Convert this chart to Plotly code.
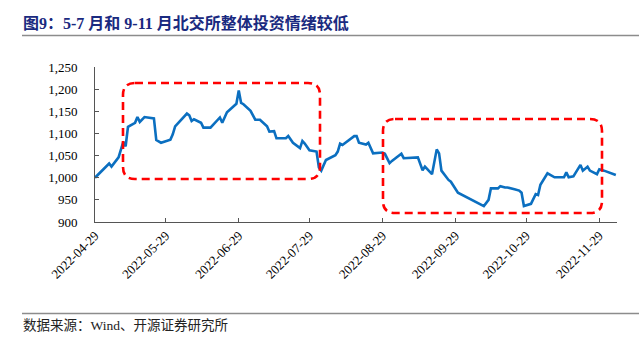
import plotly.graph_objects as go

dates = [
    "2022-04-29", "2022-05-05", "2022-05-06", "2022-05-09", "2022-05-11", "2022-05-12",
    "2022-05-13", "2022-05-16", "2022-05-17", "2022-05-18", "2022-05-20", "2022-05-24",
    "2022-05-25", "2022-05-27", "2022-05-31", "2022-06-01", "2022-06-02", "2022-06-07",
    "2022-06-08", "2022-06-09", "2022-06-10", "2022-06-13", "2022-06-14", "2022-06-17",
    "2022-06-21", "2022-06-22", "2022-06-24", "2022-06-28", "2022-06-29", "2022-06-30",
    "2022-07-01", "2022-07-04", "2022-07-06", "2022-07-08", "2022-07-11", "2022-07-12",
    "2022-07-14", "2022-07-15", "2022-07-19", "2022-07-20", "2022-07-22", "2022-07-25",
    "2022-07-26", "2022-07-27", "2022-07-29", "2022-08-01", "2022-08-02", "2022-08-03",
    "2022-08-05", "2022-08-09", "2022-08-10", "2022-08-11", "2022-08-12", "2022-08-15",
    "2022-08-17", "2022-08-18", "2022-08-19", "2022-08-22", "2022-08-23", "2022-08-25",
    "2022-08-29", "2022-08-30", "2022-09-01", "2022-09-02", "2022-09-06", "2022-09-07",
    "2022-09-09", "2022-09-13", "2022-09-15", "2022-09-16", "2022-09-19", "2022-09-20",
    "2022-09-21", "2022-09-22", "2022-09-23", "2022-09-26", "2022-09-27", "2022-09-30",
    "2022-10-10", "2022-10-11", "2022-10-13", "2022-10-14", "2022-10-17", "2022-10-18",
    "2022-10-20", "2022-10-21", "2022-10-24", "2022-10-26", "2022-10-27", "2022-10-28",
    "2022-10-31", "2022-11-02", "2022-11-03", "2022-11-04", "2022-11-07", "2022-11-10",
    "2022-11-14", "2022-11-15", "2022-11-16", "2022-11-18", "2022-11-21", "2022-11-22",
    "2022-11-24", "2022-11-25", "2022-11-28", "2022-11-29", "2022-12-01", "2022-12-06",
]

index_values = [
    1000, 1032, 1025, 1046, 1081, 1071,
    1115, 1124, 1137, 1126, 1137, 1134,
    1085, 1079, 1086, 1098, 1116, 1145,
    1141, 1128, 1132, 1124, 1113, 1113,
    1136, 1124, 1148, 1167, 1197, 1169,
    1166, 1151, 1131, 1131, 1116, 1104,
    1105, 1089, 1089, 1094, 1079, 1067,
    1083, 1077, 1062, 1059, 1023, 1016,
    1040, 1051, 1059, 1077, 1074, 1085,
    1094, 1094, 1079, 1075, 1079, 1055,
    1057, 1054, 1033, 1038, 1054, 1044,
    1045, 1046, 1017, 1025, 1008, 1036,
    1064, 1055, 1016, 995, 991, 966,
    940, 936, 950, 976, 976, 981,
    978, 978, 974, 971, 966, 936,
    941, 963, 961, 984, 1010, 1001,
    1001, 1012, 1001, 1003, 1029, 1016,
    1025, 1016, 1008, 1019, 1016, 1006,
]

x_tick_labels = [
    "2022-04-29", "2022-05-29", "2022-06-29", "2022-07-29",
    "2022-08-29", "2022-09-29", "2022-10-29", "2022-11-29",
]
y_tick_values = [900, 950, 1000, 1050, 1100, 1150, 1200, 1250]

title_text = "图9：5-7 月和 9-11 月北交所整体投资情绪较低"
source_text = "数据来源：Wind、开源证券研究所"

W, H = 639, 351
L, R, T, B = 95, 22, 67, 129
PW, PH = W - L - R, H - T - B

def px(xp):
    return (xp - L) / PW

def py(yp):
    return (H - B - yp) / PH

fig = go.Figure()
fig.add_trace(go.Scatter(
    x=dates, y=index_values, mode="lines",
    line=dict(color="#0b6fc0", width=2.6),
    showlegend=False, hoverinfo="skip",
))

serif = "Liberation Serif, Times New Roman, Noto Sans CJK SC, serif"
axis_color = "#555555"

fig.update_xaxes(
    type="date",
    range=["2022-04-29", "2022-12-06 12:00"],
    tickvals=x_tick_labels, ticktext=x_tick_labels,
    tickangle=-45,
    ticks="inside", ticklen=4, tickcolor=axis_color,
    showline=True, linecolor=axis_color, linewidth=1,
    showgrid=False, zeroline=False,
    tickfont=dict(family=serif, size=13, color="#000000"),
)
fig.update_yaxes(
    range=[900, 1250],
    tickvals=y_tick_values, tickformat=",",
    ticks="inside", ticklen=4, tickcolor=axis_color,
    showline=True, linecolor=axis_color, linewidth=1,
    showgrid=False, zeroline=False,
    ticklabelstandoff=14,
    tickfont=dict(family=serif, size=13, color="#000000"),
)

def rounded_box(x0, y0, x1, y1, r=12):
    # x0..x1, y0..y1 in pixel coordinates of the page (y downward)
    a0, a1 = px(x0), px(x1)
    b0, b1 = py(y1), py(y0)  # bottom, top in paper
    rx, ry = r / PW, r / PH
    return (f"M {a0+rx},{b1} L {a1-rx},{b1} Q {a1},{b1} {a1},{b1-ry} "
            f"L {a1},{b0+ry} Q {a1},{b0} {a1-rx},{b0} "
            f"L {a0+rx},{b0} Q {a0},{b0} {a0},{b0+ry} "
            f"L {a0},{b1-ry} Q {a0},{b1} {a0+rx},{b1} Z")

box_line = dict(color="#ff0000", width=2.6, dash="8px,5px")
shapes = [
    dict(type="path", xref="paper", yref="paper", path=rounded_box(123, 83, 320, 179), line=box_line),
    dict(type="path", xref="paper", yref="paper", path=rounded_box(383, 119, 602, 213), line=box_line),
    dict(type="line", xref="paper", yref="paper", x0=px(22), x1=px(W), y0=py(35.5), y1=py(35.5),
         line=dict(color="#8c8c8c", width=1.6)),
    dict(type="line", xref="paper", yref="paper", x0=px(22), x1=px(W), y0=py(313.5), y1=py(313.5),
         line=dict(color="#8c8c8c", width=1.6)),
]

annotations = [
    dict(text=f"<b>{title_text}</b>", xref="paper", yref="paper", x=px(21), y=py(23),
         xanchor="left", yanchor="middle", showarrow=False,
         font=dict(family=serif, size=16, color="#1a2a80")),
    dict(text=source_text, xref="paper", yref="paper", x=px(21), y=py(325.5),
         xanchor="left", yanchor="middle", showarrow=False,
         font=dict(family=serif, size=13.5, color="#222222")),
]

fig.update_layout(
    width=W, height=H,
    margin=dict(l=L, r=R, t=T, b=B),
    paper_bgcolor="white", plot_bgcolor="white",
    shapes=shapes, annotations=annotations,
)

fig.write_html("out.html")
